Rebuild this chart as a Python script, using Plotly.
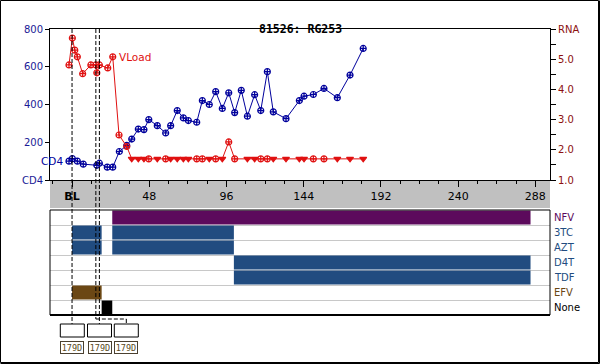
import plotly.graph_objects as go

# ---------------- data ----------------
cd4_weeks = [-1.9, 0.2, 3.3, 7.0, 15.4, 17.0, 21.9, 25.3, 29.4, 34.0,
             37.1, 41.2, 44.7, 47.7, 53.0, 58.2, 61.3, 65.4, 69.2, 72.3,
             77.5, 81.0, 85.3, 89.3, 93.4, 97.4, 101.1, 105.2, 109.0, 113.5,
             117.3, 121.4, 125.1, 133.0, 141.3, 144.2, 150.0, 156.6, 164.9, 172.8,
             181.0]
cd4_values = [100, 113, 100, 84, 78, 89, 68, 68, 151, 183,
              217, 270, 267, 320, 288, 249, 288, 368, 329, 315,
              306, 421, 400, 468, 379, 462, 357, 475, 338, 452,
              368, 574, 361, 325, 421, 444, 453, 485, 436, 556,
              697]

vl_weeks = [-1.9, 0.2, 1.7, 3.3, 6.6, 11.7, 14.8, 15.4, 17.0, 22.2, 25.3, 29.2, 34.0,
            37.1, 41.2, 44.7, 47.7, 53.0, 58.2, 61.3, 65.4, 69.2, 72.3,
            77.5, 81.0, 85.3, 89.3, 93.4, 97.4, 101.1, 109.0, 113.5, 117.3,
            121.4, 125.1, 133.0, 141.3, 144.2, 150.0, 156.6, 164.9, 172.8, 181.0]
vl_log10 = [4.81, 5.70, 5.30, 5.08, 4.52, 4.81, 4.81, 4.55, 4.81, 4.71, 5.08, 2.49, 2.11,
            1.70, 1.70, 1.70, 1.70, 1.70, 1.70, 1.70, 1.70, 1.70, 1.70,
            1.70, 1.70, 1.70, 1.70, 1.70, 2.26, 1.70, 1.70, 1.70, 1.70,
            1.70, 1.70, 1.70, 1.70, 1.70, 1.70, 1.70, 1.70, 1.70, 1.70]
vl_below_limit = [0, 0, 0, 0, 0, 0, 0, 0, 0, 0, 0, 0, 0,
                  1, 1, 1, 0, 1, 0, 1, 1, 1, 1,
                  0, 0, 1, 0, 1, 0, 0, 1, 1, 0,
                  0, 1, 1, 1, 1, 0, 0, 1, 1, 1]

drug_rows = ["NFV", "3TC", "AZT", "D4T", "TDF", "EFV", "None"]
bar_drug = ["NFV", "3TC", "3TC", "AZT", "AZT", "D4T", "TDF", "EFV", "None"]
bar_start = [25.0, 0.0, 25.0, 0.0, 25.0, 100.6, 100.6, 0.0, 18.4]
bar_end = [285.0, 18.4, 100.6, 18.4, 100.6, 285.0, 285.0, 18.4, 25.0]

event_weeks = [0.0, 17.0, 14.8]
event_labels = ["179D", "179D", "179D"]

x_tickvals = [0, 48, 96, 144, 192, 240, 288]
x_ticktext = ["<b>BL</b>", "48", "96", "144", "192", "240", "288"]
cd4_tickvals = [0, 200, 400, 600, 800]
cd4_ticktext = ["CD4", "200", "400", "600", "800"]
rna_tickvals = [1, 2, 3, 4, 5, 6]
rna_ticktext = ["1.0", "2.0", "3.0", "4.0", "5.0", "RNA"]

title = "81526: RG253"

# ---------------- layout helpers ----------------
W, H = 600, 364
def px(x):
    return x / W
def py(y):
    return 1 - y / H

XR = [-13.7, 297.1]
PL, PR = 50, 550
def data_x(pix):
    return XR[0] + (pix - PL) / (PR - PL) * (XR[1] - XR[0])

BLUE = "#00009c"
RED = "#e01010"
AX_BLUE = "#1a1a96"
AX_RED = "#8c1010"
drug_colors = {"NFV": "#5c0a5c", "3TC": "#214c80", "AZT": "#214c80",
               "D4T": "#214c80", "TDF": "#214c80", "EFV": "#6b4714", "None": "#000000"}
FONT = "DejaVu Sans"

fig = go.Figure()

# CD4
fig.add_trace(go.Scatter(
    x=cd4_weeks, y=cd4_values, mode="lines+markers", xaxis="x", yaxis="y",
    line=dict(color=BLUE, width=1),
    marker=dict(symbol="circle-cross-open", size=6, color=BLUE, line=dict(width=1.2, color=BLUE)),
    showlegend=False, hoverinfo="skip"))

# Viral load
vl_symbols = ["triangle-down" if b else "circle-cross-open" for b in vl_below_limit]
fig.add_trace(go.Scatter(
    x=vl_weeks, y=vl_log10, mode="lines+markers", xaxis="x", yaxis="y2",
    line=dict(color=RED, width=1),
    marker=dict(symbol=vl_symbols, size=6, color=RED, line=dict(width=1.2, color=RED)),
    showlegend=False, hoverinfo="skip"))

# Treatment bars
for d, s, e in zip(bar_drug, bar_start, bar_end):
    fig.add_trace(go.Bar(
        orientation="h", y=[drug_rows.index(d) + 0.5], x=[e - s], base=[s],
        width=0.93, marker=dict(color=drug_colors[d], line=dict(width=0)),
        xaxis="x2", yaxis="y3", showlegend=False, hoverinfo="skip"))

shapes = []
# gray band under top plot
shapes.append(dict(type="rect", xref="paper", yref="paper", x0=px(PL), x1=px(PR),
                   y0=py(208), y1=py(180), fillcolor="#c0c0c0", line=dict(width=0), layer="below"))
# bottom panel frame
shapes.append(dict(type="rect", xref="paper", yref="paper", x0=px(PL), x1=px(PR),
                   y0=py(315), y1=py(210), line=dict(color="black", width=1)))
shapes.append(dict(type="line", xref="paper", yref="paper", x0=px(PL), x1=px(PR),
                   y0=py(315), y1=py(315), line=dict(color="black", width=2)))
# outer frame
shapes.append(dict(type="rect", xref="paper", yref="paper", x0=px(0.5), x1=px(598.5),
                   y0=py(362.5), y1=py(0.5), line=dict(color="black", width=1)))
shapes.append(dict(type="line", xref="paper", yref="paper", x0=px(599.5), x1=px(599.5),
                   y0=py(363.5), y1=py(0.5), line=dict(color="black", width=1)))
shapes.append(dict(type="line", xref="paper", yref="paper", x0=px(0.5), x1=px(599.5),
                   y0=py(363.5), y1=py(363.5), line=dict(color="black", width=1)))

# event boxes
box_centers = [72.3, 99.5, 126.3]
dash = dict(color="black", width=1, dash="4px,2px")
for i, (w, c) in enumerate(zip(event_weeks, box_centers)):
    cx = data_x(c)
    if abs(cx - w) < 1.5:
        shapes.append(dict(type="line", xref="x", yref="paper", x0=w, x1=w,
                           y0=py(29), y1=py(324), line=dash))
    else:
        shapes.append(dict(type="line", xref="x", yref="paper", x0=w, x1=w,
                           y0=py(29), y1=py(319), line=dash))
        shapes.append(dict(type="line", xref="x", yref="paper", x0=w, x1=cx,
                           y0=py(319), y1=py(319), line=dash))
        shapes.append(dict(type="line", xref="x", yref="paper", x0=cx, x1=cx,
                           y0=py(319), y1=py(324), line=dash))
    shapes.append(dict(type="rect", xref="paper", yref="paper", x0=px(c - 12), x1=px(c + 12),
                       y0=py(337), y1=py(324), fillcolor="white", line=dict(color="black", width=1)))

annotations = []
annotations.append(dict(text="<b>" + title + "</b>", xref="paper", yref="paper", x=0.5, y=py(20),
                        showarrow=False, font=dict(family="DejaVu Sans Mono", size=11.5, color="black")))
annotations.append(dict(text="VLoad", xref="x", yref="y2", x=vl_weeks[10], y=vl_log10[10],
                        xanchor="left", xshift=4, showarrow=False,
                        font=dict(family=FONT, size=10.5, color=RED)))
annotations.append(dict(text="CD4", xref="x", yref="y", x=cd4_weeks[0], y=cd4_values[0],
                        xanchor="right", xshift=-4, showarrow=False,
                        font=dict(family=FONT, size=10.5, color=BLUE)))
for i, d in enumerate(drug_rows):
    annotations.append(dict(text=d, xref="paper", yref="y3", x=px(552), y=i + 0.5,
                            xanchor="left", showarrow=False,
                            font=dict(family=FONT, size=10, color=drug_colors[d])))
for lab, c in zip(event_labels, box_centers):
    annotations.append(dict(text=lab, xref="paper", yref="paper", x=px(c), y=py(347),
                            xanchor="center", yanchor="middle", showarrow=False,
                            width=22, height=11, borderpad=0, borderwidth=1,
                            bordercolor="#4a4030", bgcolor="white",
                            font=dict(family="DejaVu Sans Mono", size=8.5, color="#5a4a1e")))

minor_x = [v for v in range(-12, 297, 12) if v % 48 != 0]

fig.update_layout(
    width=W, height=H, margin=dict(l=0, r=0, t=0, b=0),
    paper_bgcolor="white", plot_bgcolor="white", barmode="overlay",
    shapes=shapes, annotations=annotations,
    xaxis=dict(domain=[px(PL), px(PR)], anchor="y", range=XR, tickvals=x_tickvals,
               ticktext=x_ticktext, ticks="outside", ticklen=6, tickcolor="black",
               minor=dict(tickvals=minor_x, ticks="outside", ticklen=3, tickcolor="black"),
               tickfont=dict(family=FONT, size=11, color="black"),
               showline=True, mirror=True, linecolor="black", linewidth=1,
               showgrid=False, zeroline=False, automargin=False),
    yaxis=dict(domain=[py(180), py(29)], range=[0, 800], tickvals=cd4_tickvals,
               ticktext=cd4_ticktext, ticks="outside", ticklen=4, tickcolor="black",
               tickfont=dict(family=FONT, size=10, color=AX_BLUE),
               showline=True, mirror=True, linecolor="black", linewidth=1,
               showgrid=False, zeroline=False, automargin=False),
    yaxis2=dict(overlaying="y", side="right", anchor="x", range=[1, 6], tickvals=rna_tickvals,
                ticktext=rna_ticktext, ticks="outside", ticklen=5, tickcolor="black",
                minor=dict(tickvals=[1.5, 2.5, 3.5, 4.5, 5.5], ticks="outside", ticklen=5, tickcolor="black"),
                tickfont=dict(family=FONT, size=10, color=AX_RED),
                showline=True, linecolor="black", showgrid=False, zeroline=False, automargin=False),
    xaxis2=dict(domain=[px(PL), px(PR)], anchor="y3", range=XR, showticklabels=False,
                ticks="", showgrid=False, zeroline=False, showline=False),
    yaxis3=dict(domain=[py(315), py(210)], anchor="x2", range=[7, 0], tickvals=[1, 2, 3, 4, 5, 6],
                showticklabels=False, ticks="", showgrid=True, gridcolor="#c8c8c8", gridwidth=1,
                zeroline=False, showline=False),
)

fig.write_html("out.html", config={"displayModeBar": False},
               post_script="document.body.style.margin='0';document.body.style.overflow='hidden';")
